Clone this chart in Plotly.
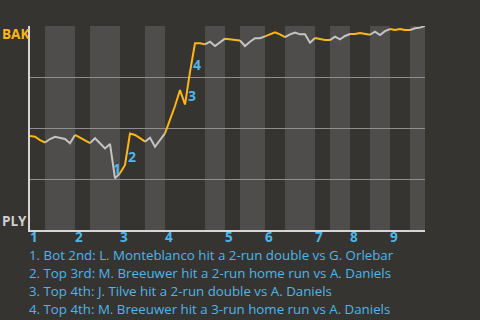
import plotly.graph_objects as go

# BAK win probability (%) after each plate appearance (event index 0..79)
wp = [46.1, 45.7, 44.1, 42.9, 44.6, 45.7, 45.0, 44.6, 42.5, 46.6,
      45.2, 44.1, 42.6, 45.0, 42.5, 40.0, 42.2, 25.3, 27.8, 31.9,
      47.3, 46.6, 45.0, 43.3, 45.2, 40.8, 44.1, 47.4, 53.9, 60.8,
      68.6, 61.5, 77.5, 91.5, 91.5, 91.0, 92.3, 90.2, 91.8, 93.8,
      93.5, 93.1, 92.9, 90.2, 92.3, 94.0, 94.0, 94.9, 96.1, 96.9,
      95.9, 94.5, 95.9, 96.8, 95.9, 95.9, 91.8, 94.1, 93.6, 93.1,
      93.1, 94.8, 93.5, 95.1, 96.1, 96.1, 96.6, 96.3, 95.7, 97.2,
      95.6, 97.5, 98.5, 98.0, 98.5, 98.0, 98.0, 98.9, 99.2, 100.0]

# half-inning boundaries (event index): top 1, bot 1, top 2, ...
half_bounds = [0, 3, 9, 12, 18, 23, 27, 35, 39, 42, 47, 51, 57, 60, 64, 68, 72, 76, 79]
inning_labels = ["1", "2", "3", "4", "5", "6", "7", "8", "9"]

# key events: (event index where the play ends, label)
event_idx = [17, 20, 32, 33]
event_nums = ["1", "2", "3", "4"]
event_texts = [
    "1. Bot 2nd: L. Monteblanco hit a 2-run double vs G. Orlebar",
    "2. Top 3rd: M. Breeuwer hit a 2-run home run vs A. Daniels",
    "3. Top 4th: J. Tilve hit a 2-run double vs A. Daniels",
    "4. Top 4th: M. Breeuwer hit a 3-run home run vs A. Daniels",
]
y_ticks = [25, 50, 75, 100]

BG = "#363430"
STRIPE = "#4e4d4b"
ORANGE = "#fdb614"
GREY = "#c4c4c4"
BLUE = "#4db6ea"
FONT = "Open Sans"

fig = go.Figure()

shapes = []
for h in range(len(half_bounds) - 1):
    x0, x1 = half_bounds[h], half_bounds[h + 1]
    if h % 2 == 1:
        shapes.append(dict(type="rect", xref="x", yref="paper", x0=x0, x1=x1,
                           y0=0, y1=1, fillcolor=STRIPE, line_width=0, layer="below"))
    xs = list(range(x0, x1 + 1))
    ys = [wp[i] for i in xs]
    fig.add_trace(go.Scatter(x=xs, y=ys, mode="lines",
                             line=dict(color=ORANGE if h % 2 == 0 else GREY, width=2),
                             hoverinfo="skip", showlegend=False))

annotations = []
for i, lab in enumerate(inning_labels):
    annotations.append(dict(x=half_bounds[2 * i], y=0, xref="x", yref="paper",
                            text="<b>%s</b>" % lab, showarrow=False, borderpad=0,
                            xanchor="left", yanchor="middle", yshift=-7, xshift=-1,
                            font=dict(family=FONT, size=13.5, color=BLUE)))
for idx, num in zip(event_idx, event_nums):
    annotations.append(dict(x=idx - 0.5, y=(wp[idx - 1] + wp[idx]) / 2, xref="x", yref="y",
                            text="<b>%s</b>" % num, showarrow=False, borderpad=0,
                            xanchor="center", yanchor="middle", xshift=4, yshift=-7,
                            font=dict(family=FONT, size=14, color=BLUE)))
for j, t in enumerate(event_texts):
    annotations.append(dict(x=0, y=0, xref="paper", yref="paper", text=t, showarrow=False,
                            borderpad=0,
                            xanchor="left", yanchor="middle", xshift=-2, yshift=-25 - 18 * j,
                            font=dict(family=FONT, size=13.3, color=BLUE)))
annotations.append(dict(x=0, y=1, xref="paper", yref="paper", text="<b>BAK</b>", showarrow=False,
                        borderpad=0,
                        xanchor="left", yanchor="middle", xshift=-29, yshift=-8,
                        font=dict(family=FONT, size=13.5, color=ORANGE)))
annotations.append(dict(x=0, y=0, xref="paper", yref="paper", text="<b>PLY</b>", showarrow=False,
                        borderpad=0,
                        xanchor="left", yanchor="middle", xshift=-29, yshift=9,
                        font=dict(family=FONT, size=13.5, color="#d0d0d0")))

fig.update_layout(
    width=480, height=320,
    margin=dict(l=30, r=55, t=26, b=90),
    paper_bgcolor=BG, plot_bgcolor=BG,
    shapes=shapes, annotations=annotations,
    xaxis=dict(range=[0, 79], showgrid=False, zeroline=False, showticklabels=False,
               showline=True, linecolor="#d6d6d6", linewidth=1.5),
    yaxis=dict(range=[0, 100], tickvals=y_ticks, showgrid=True, gridcolor="#8e8e8e",
               gridwidth=1, zeroline=False, showticklabels=False,
               showline=True, linecolor="#d6d6d6", linewidth=1.5),
)

fig.write_html("out.html")
